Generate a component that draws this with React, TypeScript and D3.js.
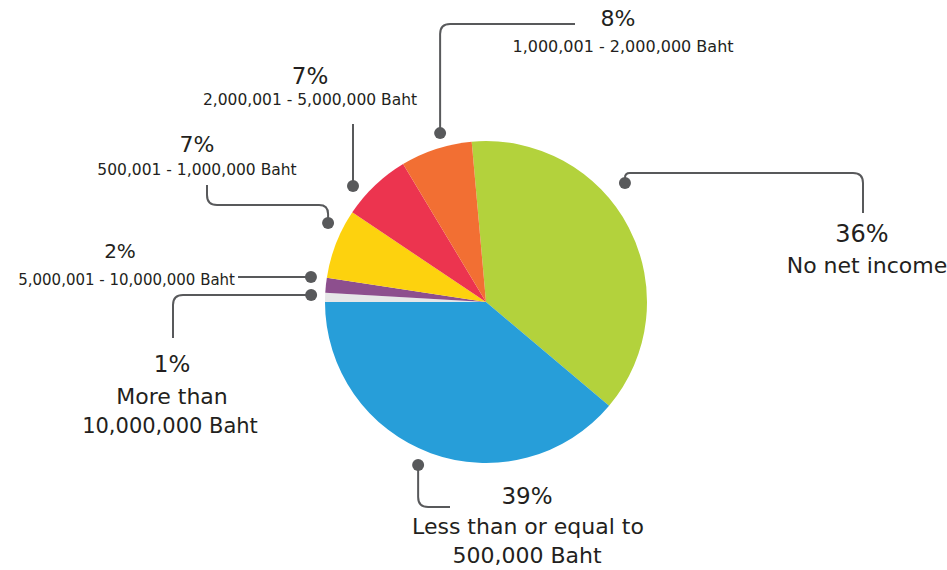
import React from "react";
import * as d3 from "d3";

// ---- data ----
const categories = [
  "No net income",
  "Less than or equal to 500,000 Baht",
  "More than 10,000,000 Baht",
  "5,000,001 - 10,000,000 Baht",
  "500,001 - 1,000,000 Baht",
  "2,000,001 - 5,000,000 Baht",
  "1,000,001 - 2,000,000 Baht",
];
// labelled percentages
const percentLabels = ["36%", "39%", "1%", "2%", "7%", "7%", "8%"];
// slice shares as drawn in the picture
const sliceShares = [37.6, 38.9, 0.9, 1.5, 7.0, 7.0, 7.2];
const colors = ["#b3d23c", "#279ed9", "#e6e7e8", "#8d4f8e", "#fdd20e", "#ec344f", "#f26f33"];

// ---- layout ----
const W = 947;
const H = 570;
const CX = 486;
const CY = 302;
const R = 161;
const START = (-5.1 * Math.PI) / 180;
const LINE = "#58595b";
const TEXT = "#231f20";
const FONT = "'DejaVu Sans', 'Noto Sans', sans-serif";

type WP = { x?: number; y?: number };
type Lbl = { text: string; x: number; y: number; size: number; anchor?: string };
type Ann = { angle: number; r: number; path: WP[]; labels: Lbl[] };

// one annotation per category (same order)
const annotations: Ann[] = [
  {
    angle: 49.4, r: 183,
    path: [{ y: 173 }, { x: 863 }, { y: 213 }],
    labels: [
      { text: "36%", x: 862, y: 242, size: 24 },
      { text: "No net income", x: 867, y: 273, size: 22 },
    ],
  },
  {
    angle: 202.6, r: 176.6,
    path: [{ y: 507 }, { x: 450 }],
    labels: [
      { text: "39%", x: 527, y: 504, size: 23 },
      { text: "Less than or equal to", x: 528, y: 534, size: 22 },
      { text: "500,000 Baht", x: 527, y: 563, size: 22 },
    ],
  },
  {
    angle: -87.7, r: 175,
    path: [{ x: 173 }, { y: 338 }],
    labels: [
      { text: "1%", x: 172, y: 372, size: 23 },
      { text: "More than", x: 172, y: 404, size: 22 },
      { text: "10,000,000 Baht", x: 170, y: 433, size: 21 },
    ],
  },
  {
    angle: -81.9, r: 176.8,
    path: [{ x: 238 }],
    labels: [
      { text: "2%", x: 120, y: 258, size: 20 },
      { text: "5,000,001 - 10,000,000 Baht", x: 235, y: 285, size: 15, anchor: "end" },
    ],
  },
  {
    angle: -63.4, r: 176.6,
    path: [{ y: 205 }, { x: 207 }, { y: 185 }],
    labels: [
      { text: "7%", x: 197, y: 152, size: 22 },
      { text: "500,001 - 1,000,000 Baht", x: 197, y: 175, size: 15.5 },
    ],
  },
  {
    angle: -48.9, r: 176.5,
    path: [{ y: 124 }],
    labels: [
      { text: "7%", x: 310, y: 84, size: 23 },
      { text: "2,000,001 - 5,000,000 Baht", x: 310, y: 105, size: 15.5 },
    ],
  },
  {
    angle: -15.2, r: 175,
    path: [{ y: 24 }, { x: 575 }],
    labels: [
      { text: "8%", x: 618, y: 26, size: 22 },
      { text: "1,000,001 - 2,000,000 Baht", x: 623, y: 52, size: 16 },
    ],
  },
];

function roundedPath(pts: [number, number][], rad: number): string {
  const p = d3.path();
  p.moveTo(pts[0][0], pts[0][1]);
  for (let i = 1; i < pts.length - 1; i++) {
    const [x0, y0] = pts[i - 1];
    const [x1, y1] = pts[i];
    const [x2, y2] = pts[i + 1];
    const l1 = Math.hypot(x1 - x0, y1 - y0);
    const l2 = Math.hypot(x2 - x1, y2 - y1);
    const rr = Math.min(rad, l1 / 2, l2 / 2);
    p.lineTo(x1 - ((x1 - x0) / l1) * rr, y1 - ((y1 - y0) / l1) * rr);
    p.quadraticCurveTo(x1, y1, x1 + ((x2 - x1) / l2) * rr, y1 + ((y2 - y1) / l2) * rr);
  }
  const last = pts[pts.length - 1];
  p.lineTo(last[0], last[1]);
  return p.toString();
}

export default function App() {
  const pie = d3
    .pie<number>()
    .sort(null)
    .value((d) => d)
    .startAngle(START)
    .endAngle(START + 2 * Math.PI);
  const arcs = pie(sliceShares);
  const arc = d3.arc<d3.PieArcDatum<number>>().innerRadius(0).outerRadius(R);

  return (
    <svg
      width={W}
      height={H}
      style={{ position: "absolute", left: 0, top: 0, background: "#fff" }}
      fontFamily={FONT}
    >
      <rect width={W} height={H} fill="#fff" />
      <g transform={`translate(${CX},${CY})`}>
        {arcs.map((a, i) => (
          <path key={categories[i]} d={arc(a) || ""} fill={colors[i]} />
        ))}
      </g>
      {annotations.map((an, i) => {
        const [dx, dy] = d3.pointRadial((an.angle * Math.PI) / 180, an.r);
        const dot: [number, number] = [CX + dx, CY + dy];
        const pts: [number, number][] = [dot];
        an.path.forEach((w) => {
          const prev = pts[pts.length - 1];
          pts.push([w.x ?? prev[0], w.y ?? prev[1]]);
        });
        return (
          <g key={"ann" + i}>
            <path d={roundedPath(pts, 10)} fill="none" stroke={LINE} strokeWidth={2} />
            <circle cx={dot[0]} cy={dot[1]} r={6} fill={LINE} />
            {an.labels.map((l, j) => (
              <text
                key={j}
                x={l.x}
                y={l.y}
                fontSize={l.size}
                textAnchor={l.anchor || "middle"}
                fill={TEXT}
              >
                {j === 0 ? percentLabels[i] : l.text}
              </text>
            ))}
          </g>
        );
      })}
    </svg>
  );
}
